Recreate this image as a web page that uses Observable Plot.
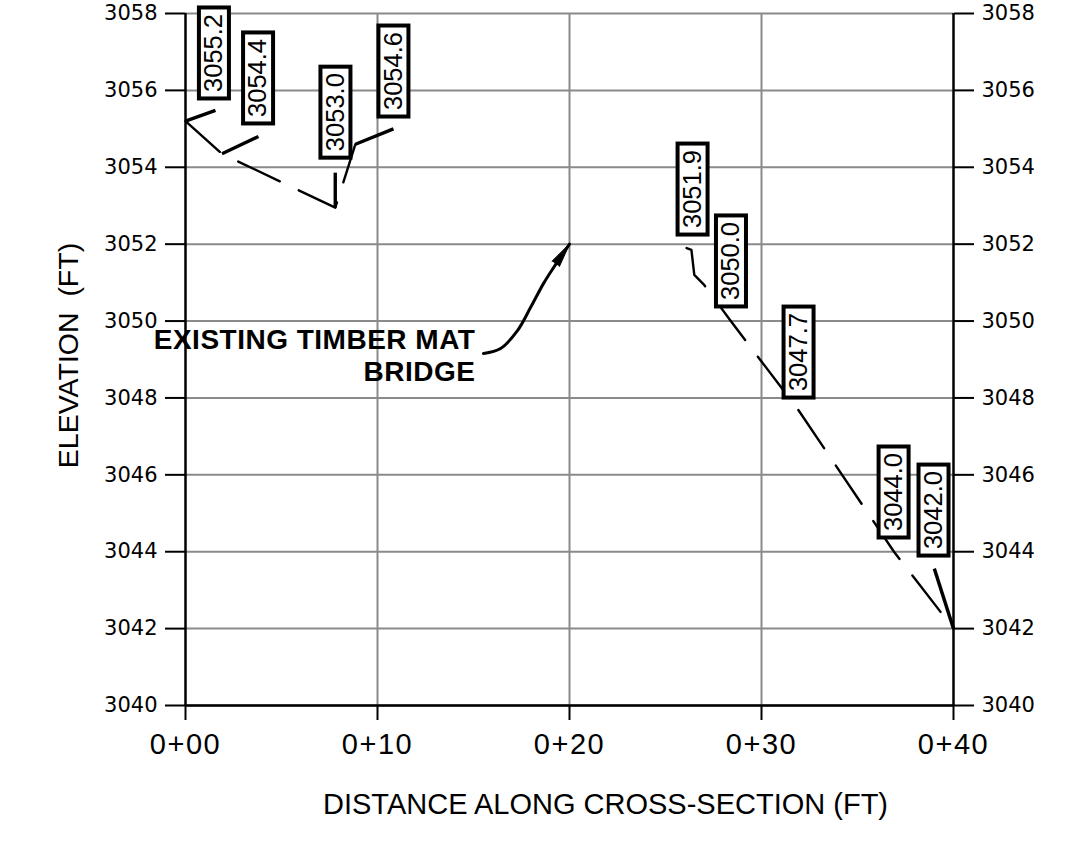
<!DOCTYPE html>
<html><head><meta charset="utf-8">
<script src="https://cdn.jsdelivr.net/npm/d3@7"></script>
<script src="https://cdn.jsdelivr.net/npm/@observablehq/plot@0.6"></script>
<style>html,body{margin:0;padding:0;background:#fff;} #chart{width:1078px;height:846px;}</style>
</head><body><div id="chart"></div>
<script>
// ---- data ----
const xTicks = [0, 10, 20, 30, 40];
const xTickLabels = ["0+00", "0+10", "0+20", "0+30", "0+40"];
const yTicks = [3040, 3042, 3044, 3046, 3048, 3050, 3052, 3054, 3056, 3058];
const xGrid = [10, 20, 30];

// existing ground, left of the bridge (station ft, elevation ft)
const groundLeftX = [0, 1.9, 7.8, 8.85];
const groundLeftY = [3055.2, 3054.35, 3052.95, 3054.6];
// existing ground, right of the bridge
const groundRightX = [26.1, 26.35, 26.5, 27.0, 28.4, 31.9, 36.9, 40];
const groundRightY = [3051.9, 3051.85, 3051.2, 3050.95, 3050.0, 3047.7, 3044.0, 3042.0];

// elevation callouts: value, box anchor (station, elevation at box bottom)
const labelValues = [3055.2, 3054.4, 3053.0, 3054.6, 3051.9, 3050.0, 3047.7, 3044.0, 3042.0];
const labelX = [1.48, 3.78, 7.81, 10.83, 26.41, 28.41, 31.93, 36.88, 38.96];
const labelY = [3055.79, 3055.14, 3054.25, 3055.32, 3052.25, 3050.38, 3048.01, 3044.37, 3043.90];

// leader lines from ground points toward callouts
const leaderX1 = [0, 1.9, 7.8, 8.85, 40];
const leaderY1 = [3055.2, 3054.35, 3052.95, 3054.6, 3042.0];
const leaderX2 = [1.56, 3.8, 7.8, 10.83, 39.0];
const leaderY2 = [3055.48, 3054.8, 3053.86, 3055.0, 3043.56];

// bridge note and its curved arrow
const bridgeText = "EXISTING TIMBER MAT\nBRIDGE";
const bridgeX = 15.1;
const bridgeY = 3049.85;
const arrowX = [15.52, 16.41, 17.29, 17.97, 18.65, 19.17, 20.0];
const arrowY = [3049.155, 3049.285, 3049.75, 3050.35, 3050.98, 3051.39, 3052.0];

const yTitle = "ELEVATION\u00a0\u00a0(FT)";
const xTitle = "DISTANCE ALONG CROSS-SECTION (FT)";

// ---- tables ----
const ground = [
  ...groundLeftX.map((x, i) => ({x, y: groundLeftY[i], seg: "left"})),
  ...groundRightX.map((x, i) => ({x, y: groundRightY[i], seg: "right"}))
];
const labels = labelValues.map((v, i) => ({v, x: labelX[i], y: labelY[i]}));
const leaders = leaderX1.map((x1, i) => ({x1, y1: leaderY1[i], x2: leaderX2[i], y2: leaderY2[i]}));
const arrow = arrowX.map((x, i) => ({x, y: arrowY[i]}));
const tip = [arrow[arrow.length - 1]];

const GRID = "#8a8a8a";
const CAD = "Liberation Sans, Arial, sans-serif";
const TICKFONT = "DejaVu Sans, Verdana, sans-serif";

const plot = Plot.plot({
  width: 1078, height: 846,
  marginLeft: 185, marginRight: 125, marginTop: 13, marginBottom: 141,
  x: {domain: [0, 40]},
  y: {domain: [3040, 3058]},
  style: {background: "white", color: "black", overflow: "visible", fontFamily: CAD},
  marks: [
    Plot.gridX(xGrid, {stroke: GRID, strokeOpacity: 1, strokeWidth: 2}),
    Plot.gridY(yTicks, {stroke: GRID, strokeOpacity: 1, strokeWidth: 2}),
    Plot.ruleX([0, 40], {stroke: "black", strokeWidth: 2.5}),
    Plot.ruleY([3040], {stroke: "black", strokeWidth: 2.5}),
    Plot.axisY(yTicks, {anchor: "left", tickSize: 20, tickPadding: 8, tickFormat: d => String(d),
      fontSize: 21, fontFamily: TICKFONT, label: null, strokeWidth: 2}),
    Plot.axisY(yTicks, {anchor: "right", tickSize: 20, tickPadding: 8, tickFormat: d => String(d),
      fontSize: 21, fontFamily: TICKFONT, label: null, strokeWidth: 2}),
    Plot.axisX(xTicks, {anchor: "bottom", tickSize: 15, tickPadding: 13,
      tickFormat: d => xTickLabels[xTicks.indexOf(d)], fontSize: 29, fontFamily: CAD,
      label: null, strokeWidth: 2}),
    Plot.line(ground, {x: "x", y: "y", z: "seg", stroke: "black", strokeWidth: 2.4, strokeDasharray: "46,21"}),
    Plot.link(leaders, {x1: "x1", y1: "y1", x2: "x2", y2: "y2", stroke: "black", strokeWidth: 3.4}),
    Plot.text(labels, {x: "x", y: "y", text: d => d.v.toFixed(1), rotate: -90, dy: -45.5,
      fontSize: 25.5, fontFamily: CAD, fill: "black"}),
    Plot.text([bridgeText], {x: () => bridgeX, y: () => bridgeY, text: d => d, textAnchor: "end", lineAnchor: "top",
      fontWeight: "bold", fontSize: 28, lineHeight: 1.14, fill: "black"}),
    Plot.line(arrow, {x: "x", y: "y", curve: "catmull-rom", stroke: "black", strokeWidth: 3}),
    Plot.vector(tip, {x: "x", y: "y", length: 24, rotate: 35, r: 4.5, shape: "spike", anchor: "end",
      fill: "black", stroke: "black", strokeWidth: 1}),
    Plot.text([yTitle], {frameAnchor: "left", dx: -117, dy: -4, rotate: -90, text: d => d,
      textAnchor: "middle", lineAnchor: "middle", fontSize: 28.5, fontFamily: CAD, fill: "black"}),
    Plot.text([xTitle], {frameAnchor: "bottom", dx: 36, dy: 88, lineAnchor: "top", textAnchor: "middle",
      text: d => d, fontSize: 29, fontFamily: CAD, fill: "black"})
  ]
});
document.getElementById("chart").append(plot);

// y tick labels: wide geometric-looking font; CAD-like spacing elsewhere
plot.querySelectorAll("text").forEach(t => {
  if (/^30\d\d$/.test(t.textContent)) {
    t.setAttribute("font-family", TICKFONT);
    t.setAttribute("font-size", 21);
  }
  if (/^0\+\d\d$/.test(t.textContent)) t.setAttribute("letter-spacing", "1.5");
  if (/EXISTING/.test(t.textContent)) t.setAttribute("letter-spacing", "0.5");
});

// boxed callouts: white rectangle with black border behind each rotated elevation label
const NS = "http://www.w3.org/2000/svg";
plot.querySelectorAll("text").forEach(t => {
  if (/^30\d\d\.\d$/.test(t.textContent)) {
    const r = document.createElementNS(NS, "rect");
    r.setAttribute("transform", t.getAttribute("transform"));
    r.setAttribute("x", -45.5);
    r.setAttribute("y", -15);
    r.setAttribute("width", 91);
    r.setAttribute("height", 30);
    r.setAttribute("fill", "white");
    r.setAttribute("stroke", "black");
    r.setAttribute("stroke-width", 4);
    t.parentNode.insertBefore(r, t);
  }
});
</script>
</body></html>
